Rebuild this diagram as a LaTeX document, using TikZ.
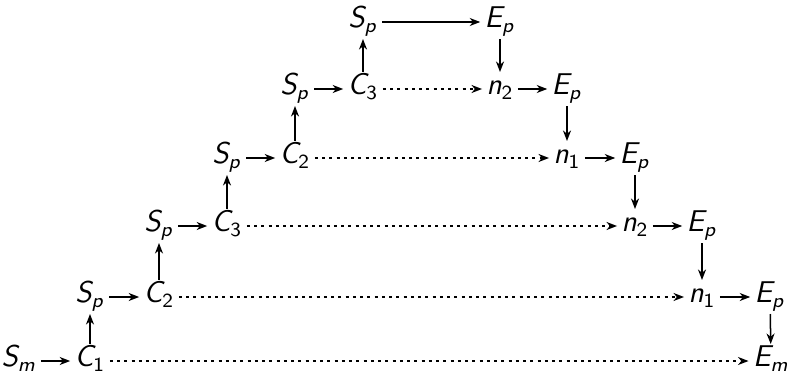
\documentclass[tikz,border=0pt]{standalone}
\usetikzlibrary{arrows.meta}
\DeclareMathAlphabet{\mathsfsl}{OT1}{cmss}{m}{sl}
\begin{document}
\begin{tikzpicture}[x=0.4pt,y=-0.4pt,
  cell/.style={inner sep=1pt,font=\fontsize{11.5}{13}\selectfont,text height=0.72em,text depth=0.28em},
  arr/.style={-{Stealth[length=4.2pt,width=3.2pt,inset=1.3pt]},line width=0.6pt,shorten >=0.6pt,shorten <=0.6pt},
  dotarr/.style={arr,dash pattern=on 1.2pt off 1.7pt}]
\useasboundingbox (0,0) rectangle (787,374);
% row 0
\node[cell] (a0) at (19,361) {$\mathsfsl{S}_{\mathsfsl{m}}$};
\node[cell] (c1) at (90,361) {$\mathsfsl{C}_{\mathsf{1}}$};
\node[cell] (em) at (771,361) {$\mathsfsl{E}_{\mathsfsl{m}}$};
% row 1
\node[cell] (s1) at (90,297) {$\mathsfsl{S}_{\mathsfsl{p}}$};
\node[cell] (c2a) at (159,297) {$\mathsfsl{C}_{\mathsf{2}}$};
\node[cell] (n1a) at (702,297) {$\mathsfsl{n}_{\mathsf{1}}$};
\node[cell] (e1) at (770,297) {$\mathsfsl{E}_{\mathsfsl{p}}$};
% row 2
\node[cell] (s2) at (159,226) {$\mathsfsl{S}_{\mathsfsl{p}}$};
\node[cell] (c3a) at (227,226) {$\mathsfsl{C}_{\mathsf{3}}$};
\node[cell] (n2a) at (635,226) {$\mathsfsl{n}_{\mathsf{2}}$};
\node[cell] (e2) at (702,226) {$\mathsfsl{E}_{\mathsfsl{p}}$};
% row 3
\node[cell] (s3) at (227,158) {$\mathsfsl{S}_{\mathsfsl{p}}$};
\node[cell] (c2b) at (295,158) {$\mathsfsl{C}_{\mathsf{2}}$};
\node[cell] (n1b) at (567,158) {$\mathsfsl{n}_{\mathsf{1}}$};
\node[cell] (e3) at (635,158) {$\mathsfsl{E}_{\mathsfsl{p}}$};
% row 4
\node[cell] (s4) at (295,89) {$\mathsfsl{S}_{\mathsfsl{p}}$};
\node[cell] (c3b) at (363,89) {$\mathsfsl{C}_{\mathsf{3}}$};
\node[cell] (n2b) at (500,89) {$\mathsfsl{n}_{\mathsf{2}}$};
\node[cell] (e4) at (567,89) {$\mathsfsl{E}_{\mathsfsl{p}}$};
% row 5
\node[cell] (s5) at (363,22) {$\mathsfsl{S}_{\mathsfsl{p}}$};
\node[cell] (e5) at (500,22) {$\mathsfsl{E}_{\mathsfsl{p}}$};
% arrows
\draw[arr] (a0) -- (c1);
\draw[dotarr] (c1) -- (em);
\draw[arr] (c1) -- (s1);
\draw[arr] (s1) -- (c2a);
\draw[dotarr] (c2a) -- (n1a);
\draw[arr] (n1a) -- (e1);
\draw[arr] (e1) -- (em);
\draw[arr] (c2a) -- (s2);
\draw[arr] (s2) -- (c3a);
\draw[dotarr] (c3a) -- (n2a);
\draw[arr] (n2a) -- (e2);
\draw[arr] (e2) -- (n1a);
\draw[arr] (c3a) -- (s3);
\draw[arr] (s3) -- (c2b);
\draw[dotarr] (c2b) -- (n1b);
\draw[arr] (n1b) -- (e3);
\draw[arr] (e3) -- (n2a);
\draw[arr] (c2b) -- (s4);
\draw[arr] (s4) -- (c3b);
\draw[dotarr] (c3b) -- (n2b);
\draw[arr] (n2b) -- (e4);
\draw[arr] (e4) -- (n1b);
\draw[arr] (c3b) -- (s5);
\draw[arr] (s5) -- (e5);
\draw[arr] (e5) -- (n2b);
\end{tikzpicture}
\end{document}
